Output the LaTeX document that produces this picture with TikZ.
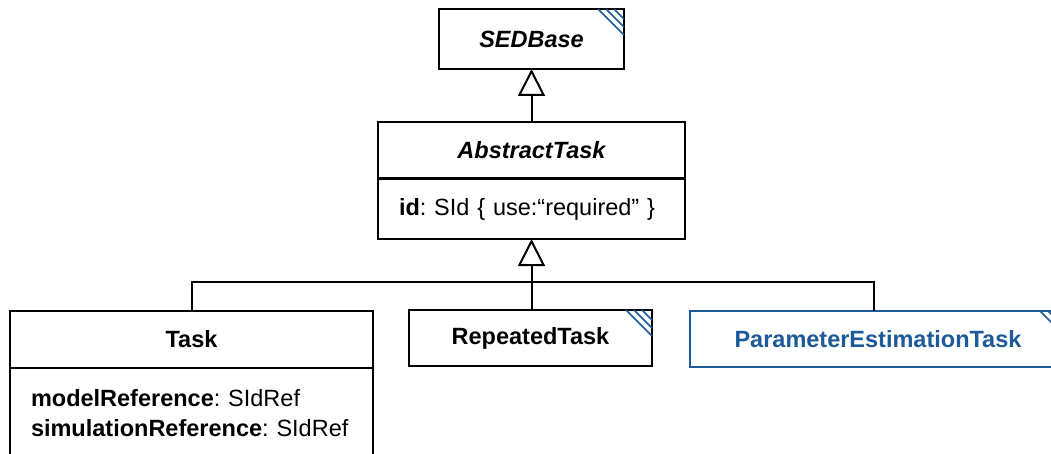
\documentclass[tikz,border=0pt]{standalone}
\usepackage{fontspec}
\setmainfont{Liberation Sans}
\usetikzlibrary{arrows.meta,calc}
\definecolor{sedblue}{HTML}{1C5A9A}
\tikzset{
  umlbox/.style={draw, line width=2pt, rectangle, inner sep=0pt, outer sep=0pt,
    font=\fontsize{23.5}{30}\selectfont\frenchspacing},
  titlebox/.style={umlbox, font=\fontsize{23.5}{30}\selectfont\bfseries},
  abstractbox/.style={umlbox, font=\fontsize{23.5}{30}\selectfont\bfseries\itshape},
  attrbox/.style={umlbox, align=left, inner xsep=21pt},
  hatchline/.style={draw=sedblue, line width=1.7pt},
  conn/.style={line width=2pt},
  gen/.style={conn, -{Triangle[open, length=27pt, width=27pt]}},
}
\newcommand\cornerhatch[1]{%
  \foreach \o in {26,18,10}
    \draw[hatchline] ($(#1.north east)+(-\o,0)$) -- ($(#1.north east)+(0,\o)$);%
}
\begin{document}
\begin{tikzpicture}[x=1pt,y=-1pt]
\useasboundingbox (0,0) rectangle (1051,454);
\clip (0,0) rectangle (1051,454);
\fill[white] (0,0) rectangle (1051,454);

\node[abstractbox, minimum width=185pt, minimum height=60pt] (sedbase) at (531.5,39) {SEDBase};
\node[abstractbox, minimum width=307pt, minimum height=56pt] (abstitle) at (531.5,150) {AbstractTask};
\node[attrbox, text width=265pt, minimum height=60pt] (absattr) at (531.5,209)
  {\textbf{id}: SId \{ use:“required” \}};

\node[titlebox, minimum width=363pt, minimum height=57pt] (tasktitle) at (191.5,339.5) {Task};
\node[attrbox, text width=321pt, minimum height=90pt] (taskattr) at (191.5,413)
  {\textbf{modelReference}: SIdRef\\\textbf{simulationReference}: SIdRef};

\node[titlebox, minimum width=243pt, minimum height=56pt] (rep) at (530.5,338) {RepeatedTask};
\node[titlebox, draw=sedblue, text=sedblue, minimum width=376pt, minimum height=56pt] (pet) at (878,339) {ParameterEstimationTask};

\cornerhatch{sedbase}
\cornerhatch{rep}
\cornerhatch{pet}

\coordinate (j) at (531.5,282);
\coordinate (petin) at (874,311);
\draw[gen] (abstitle.north) -- (sedbase.south);
\draw[conn] (tasktitle.north) |- (j) -| (petin);
\draw[gen] (rep.north -| j) -- (absattr.south);
\end{tikzpicture}
\end{document}
